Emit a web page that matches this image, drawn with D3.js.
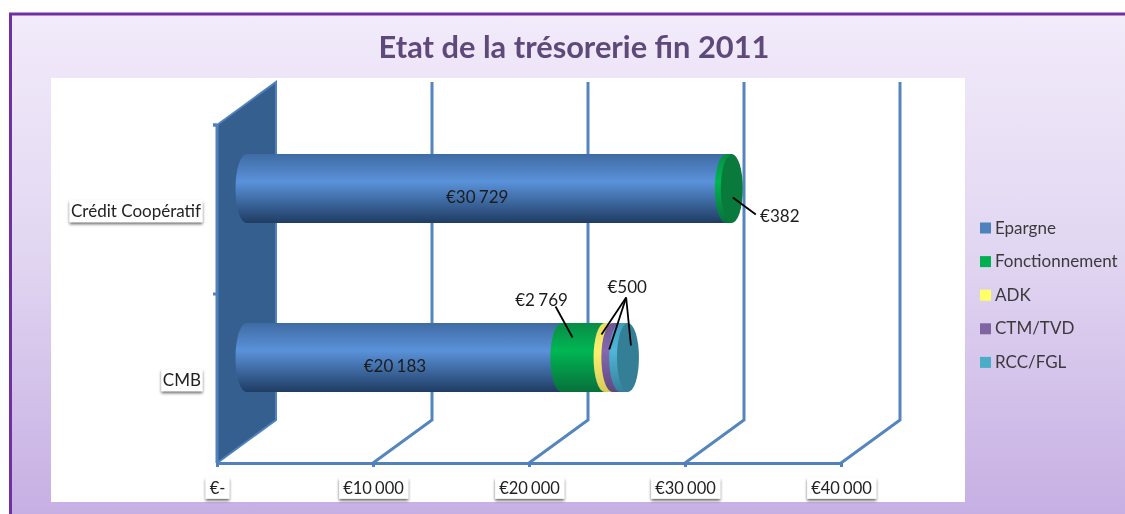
<!DOCTYPE html>
<html>
<head>
<meta charset="utf-8">
<script src="https://cdn.jsdelivr.net/npm/d3@7"></script>
<style>
  html, body { margin: 0; padding: 0; background: #fff; }
  svg { display: block; filter: blur(0.35px); }
  text { font-family: Lato, "Open Sans", sans-serif; }
</style>
</head>
<body>
<svg></svg>
<script>
// Data: amounts per bank, in euros
const categories = ["Crédit Coopératif", "CMB"];
const seriesNames = ["Epargne", "Fonctionnement", "ADK", "CTM/TVD", "RCC/FGL"];
const epargne = [30729, 20183];
const fonctionnement = [382, 2769];
const adk = [0, 500];
const ctmTvd = [0, 500];
const rccFgl = [0, 500];
const xTicks = [0, 10000, 20000, 30000, 40000];
const xTickLabels = ["€-", "€10 000", "€20 000", "€30 000", "€40 000"];

const seriesColors = ["#4f81bd", "#00b050", "#ffff66", "#8064a2", "#4bacc6"];
const ramps = [
    ["#3f6ba3", "#5a92da", "#1f3c62"],
    ["#0a8c45", "#00b653", "#07703a"],
    ["#e8dc62", "#fbf06e", "#d8cc58"],
    ["#6f5596", "#8468b0", "#5e4882"],
    ["#3f9dbb", "#50b6d8", "#34809a"]
];
const capColors = ["#3f6ba3", "#0a7a3c", "#d8cc58", "#5e4882", "#357f96"];

const rows = categories.map((c, i) => ({
    cat: c,
    Epargne: epargne[i],
    Fonctionnement: fonctionnement[i],
    ADK: adk[i],
    "CTM/TVD": ctmTvd[i],
    "RCC/FGL": rccFgl[i]
}));
const stacked = d3.stack().keys(seriesNames)(rows);

const W = 1125, H = 514;
const svg = d3.select("svg").attr("width", W).attr("height", H);
const defs = svg.append("defs");

// panel background
const bg = defs.append("linearGradient").attr("id", "panel")
    .attr("x1", 0).attr("y1", 0).attr("x2", 0).attr("y2", 1);
bg.append("stop").attr("offset", "0%").attr("stop-color", "#f2ebfa");
bg.append("stop").attr("offset", "45%").attr("stop-color", "#e2d7f2");
bg.append("stop").attr("offset", "100%").attr("stop-color", "#c5ade2");

ramps.forEach((r, i) => {
    const g = defs.append("linearGradient").attr("id", `ramp${i}`)
        .attr("x1", 0).attr("y1", 0).attr("x2", 0).attr("y2", 1);
    g.append("stop").attr("offset", "0%").attr("stop-color", r[0]);
    g.append("stop").attr("offset", "40%").attr("stop-color", r[1]);
    g.append("stop").attr("offset", "100%").attr("stop-color", r[2]);
});

const shadow = defs.append("filter").attr("id", "shadow")
    .attr("x", "-20%").attr("y", "-30%").attr("width", "140%").attr("height", "170%");
shadow.append("feDropShadow").attr("dx", 0).attr("dy", 2).attr("stdDeviation", 1.5)
    .attr("flood-color", "#000").attr("flood-opacity", 0.6);

svg.append("rect").attr("x", 10.5).attr("y", 14).attr("width", W).attr("height", H)
    .attr("fill", "url(#panel)").attr("stroke", "#7030a0").attr("stroke-width", 3);
svg.append("rect").attr("x", 51).attr("y", 78).attr("width", 914).attr("height", 424).attr("fill", "#fff");

svg.append("text").attr("x", 574).attr("y", 58).attr("text-anchor", "middle")
    .attr("font-size", 30.8).attr("font-weight", 700).attr("fill", "#5f497a")
    .text("Etat de la trésorerie fin 2011");

// Scales: front plane of the fake 3D box, the back plane is shifted by depth
const floorY = 463, topY = 125;
const depth = { x: 59, y: -43 };
const x = d3.scaleLinear().domain([0, 40000]).range([217, 841]);
const y = d3.scaleBand().domain(categories).range([topY, floorY]);
const gridBlue = "#5585bd";

// Left wall
svg.append("path")
    .attr("d", d3.line()([
        [x(0), topY], [x(0) + depth.x, topY + depth.y],
        [x(0) + depth.x, floorY + depth.y], [x(0), floorY]
    ]) + "Z")
    .attr("fill", "#355f8f").attr("stroke", "#4f81bd").attr("stroke-width", 2);
svg.append("line").attr("x1", x(0) - 4).attr("x2", x(0)).attr("y1", topY).attr("y2", topY)
    .attr("stroke", "#4f81bd").attr("stroke-width", 3);
svg.append("line").attr("x1", x(0)).attr("x2", x(0)).attr("y1", topY).attr("y2", floorY)
    .attr("stroke", "#4f81bd").attr("stroke-width", 3);

// Grid lines: diagonal on the floor, then up the back
svg.append("g").selectAll("path")
    .data(xTicks.slice(1))
    .join("path")
    .attr("d", d => d3.line()([
        [x(d), floorY], [x(d) + depth.x, floorY + depth.y], [x(d) + depth.x, topY + depth.y]
    ]))
    .attr("fill", "none").attr("stroke", gridBlue).attr("stroke-width", 3);

// X axis
const xAxis = svg.append("g").attr("transform", `translate(0,${floorY})`)
    .call(d3.axisBottom(x).tickValues(xTicks).tickFormat((d, i) => xTickLabels[i]).tickSize(4).tickPadding(15).tickSizeOuter(0));
xAxis.select(".domain").attr("stroke", "#4f81bd").attr("stroke-width", 3);
xAxis.selectAll(".tick line").attr("stroke", "#4f81bd").attr("stroke-width", 3);
xAxis.selectAll(".tick text").attr("font-size", 16.5).attr("fill", "#222").attr("font-family", "Lato")
    .attr("word-spacing", -1);

// Y axis
const yAxis = svg.append("g").attr("transform", `translate(${x(0)},0)`)
    .call(d3.axisLeft(y).tickSize(0).tickPadding(16));
yAxis.select(".domain").remove();
yAxis.selectAll(".tick text").attr("font-size", 17).attr("fill", "#222").attr("font-family", "Lato")
    .attr("dy", "0.45em");
svg.append("g").selectAll("line")
    .data([topY, topY + y.step()])
    .join("line")
    .attr("x1", x(0) - 4).attr("x2", x(0)).attr("y1", d => d).attr("y2", d => d)
    .attr("stroke", "#4f81bd").attr("stroke-width", 3);

// White shadowed boxes behind the axis labels
function labelBoxes(sel, pad) {
    sel.each(function() {
        const b = this.getBBox();
        d3.select(this.parentNode).insert("rect", "text")
            .attr("x", b.x - pad).attr("y", b.y)
            .attr("width", b.width + pad * 2).attr("height", b.height + 1)
            .attr("fill", "#fff").attr("filter", "url(#shadow)");
    });
}
xAxis.selectAll(".tick text").call(labelBoxes, 4);
yAxis.selectAll(".tick text").call(labelBoxes, 1.5);

// Cylinders, painted left to right so each left edge bulges over the previous one
const barH = 69, rx = 11, ry = barH / 2;
const px = v => x(v) + depth.x / 2;
const cy = c => y(c) + y.bandwidth() / 2 + depth.y / 2 + 0.5;
const bars = svg.append("g");
stacked.forEach((s, si) => {
    bars.selectAll(`.seg${si}`)
        .data(s.filter(d => d[1] > d[0]))
        .join("path")
        .attr("class", `seg${si}`)
        .attr("d", d => {
            const c = cy(d.data.cat), t = c - ry, b = c + ry;
            return `M${px(d[0])},${t}L${px(d[1])},${t}L${px(d[1])},${b}L${px(d[0])},${b}` +
                `A${rx},${ry} 0 0 1 ${px(d[0])},${t}Z`;
        })
        .attr("fill", `url(#ramp${si})`);
});
// End caps take the colour of the last series in the stack
rows.forEach(r => {
    const last = d3.max(seriesNames.map((n, i) => r[n] > 0 ? i : -1));
    bars.append("ellipse")
        .attr("cx", px(d3.sum(seriesNames, n => r[n])))
        .attr("cy", cy(r.cat))
        .attr("rx", rx).attr("ry", ry)
        .attr("fill", capColors[last]);
});

// Value labels
const euro = v => "€" + d3.format(",")(v).replace(/,/g, " ");
const valueLabel = (lx, ly, txt) => svg.append("text")
    .attr("x", lx).attr("y", ly).attr("text-anchor", "middle")
    .attr("font-size", 17).attr("fill", "#1c1c1c").attr("word-spacing", -1).text(txt);
const leader = (x1, y1, x2, y2) => svg.append("line")
    .attr("x1", x1).attr("y1", y1).attr("x2", x2).attr("y2", y2)
    .attr("stroke", "#000").attr("stroke-width", 1.8);

categories.forEach((c, i) => {
    valueLabel(px(epargne[i] / 2) - 9, cy(c) + 14, euro(epargne[i]));
});

// Crédit Coopératif leader
const endCredit = px(epargne[0] + fonctionnement[0]);
leader(endCredit + 1, cy(categories[0]) + 9, endCredit + 24, cy(categories[0]) + 26);
valueLabel(endCredit + 48, cy(categories[0]) + 33, euro(fonctionnement[0]));

// CMB leaders
const cmbY = cy(categories[1]);
const midF = epargne[1] + fonctionnement[1];
leader(px(midF) - 49, cmbY - 51, px(midF) - 32, cmbY - 20);
valueLabel(px(midF) - 63, cmbY - 52, euro(fonctionnement[1]));
const apex = [px(midF + adk[1] + ctmTvd[1]) + 6, cmbY - 60];
leader(apex[0], apex[1], px(midF + adk[1] / 2) - 7, cmbY - 23);
leader(apex[0], apex[1], px(midF + adk[1] + ctmTvd[1] / 2) - 7, cmbY - 8);
leader(apex[0], apex[1], px(midF + adk[1] + ctmTvd[1] + rccFgl[1]) + 3, cmbY - 12);
valueLabel(apex[0] + 1, cmbY - 65, euro(rccFgl[1]));

// Legend
const legend = svg.append("g").selectAll("g")
    .data(seriesNames)
    .join("g")
    .attr("transform", (d, i) => `translate(980,${228 + i * 33.6})`);
legend.append("rect").attr("x", 0).attr("y", -5.5).attr("width", 11).attr("height", 11)
    .attr("fill", (d, i) => seriesColors[i]);
legend.append("text").attr("x", 15).attr("y", 5.5).attr("font-size", 17).attr("fill", "#3a3a3a")
    .text(d => d);
</script>
</body>
</html>
